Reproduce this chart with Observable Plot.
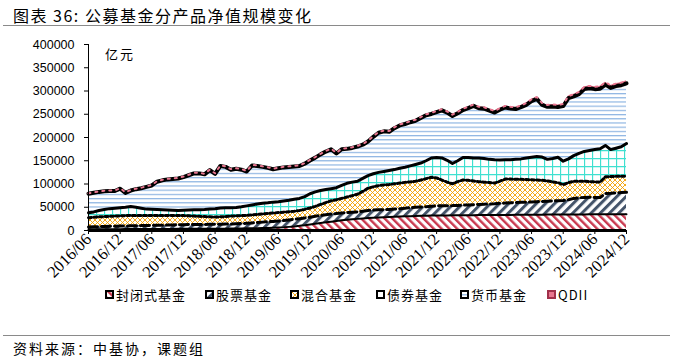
<!DOCTYPE html>
<html><head><meta charset="utf-8">
<script src="https://cdn.jsdelivr.net/npm/d3@7"></script>
<script src="https://cdn.jsdelivr.net/npm/@observablehq/plot@0.6"></script>
<style>
body{margin:0;background:#fff;}
#wrap{position:relative;width:673px;height:361px;overflow:hidden;font-family:"Noto Sans CJK SC",sans-serif;color:#000;background:#fff;}
#title{position:absolute;left:13px;top:3px;font-size:16px;letter-spacing:1.5px;white-space:nowrap;}
.hr{position:absolute;left:3px;width:667px;height:0;border-top:1.3px solid #8a8a8a;}
#chart{position:absolute;left:0;top:30px;}
#unit{position:absolute;left:105px;top:44px;font-size:13px;letter-spacing:2px;}
#legend{position:absolute;left:0;top:285px;width:673px;height:20px;font-size:13px;letter-spacing:1px;}
.li{position:absolute;top:0;display:flex;align-items:center;white-space:nowrap;}
.li svg{margin-right:2px;}
#source{position:absolute;left:13px;top:338px;font-size:14px;letter-spacing:2px;white-space:nowrap;}
</style></head><body>
<div id="wrap">
<svg width="0" height="0" style="position:absolute">
<defs>
<pattern id="pClosed" patternUnits="userSpaceOnUse" width="5.5" height="5.5" patternTransform="rotate(-45)">
  <rect width="5.5" height="5.5" fill="#fff"/><rect width="2.4" height="5.5" fill="#c9394f"/>
</pattern>
<pattern id="pStock" patternUnits="userSpaceOnUse" width="6.5" height="6.5" patternTransform="rotate(45)">
  <rect width="6.5" height="6.5" fill="#fff"/><rect width="3" height="6.5" fill="#44546a"/>
</pattern>
<pattern id="pMixed" patternUnits="userSpaceOnUse" width="5" height="5">
  <rect width="5" height="5" fill="#fff"/><path d="M0,0L5,5M5,0L0,5" stroke="#f4a000" stroke-width="0.9"/>
</pattern>
<pattern id="pBond" patternUnits="userSpaceOnUse" width="8" height="8">
  <rect width="8" height="8" fill="#fff"/><path d="M0.5,0V8M0,0.5H8" stroke="#3fe0d0" stroke-width="1.3"/>
</pattern>
<pattern id="pMoney" patternUnits="userSpaceOnUse" width="4" height="4.2">
  <rect width="4" height="4.2" fill="#fff"/><path d="M0,0.6H4" stroke="#8db4e2" stroke-width="1.2"/>
</pattern>
</defs></svg>
<div id="title">图表 36: 公募基金分产品净值规模变化</div>
<div class="hr" style="top:25px"></div>
<div id="chart"></div>
<div id="unit">亿元</div>
<div id="legend"></div>
<div class="hr" style="top:335px"></div>
<div id="source">资料来源：中基协，课题组</div>
</div>
<script>
// Monthly net asset value by fund type, 亿元, 2016/06 … 2024/12
const tickLabels = ["2016/06","2016/12","2017/06","2017/12","2018/06","2018/12","2019/06","2019/12","2020/06","2020/12","2021/06","2021/12","2022/06","2022/12","2023/06","2023/12","2024/06","2024/12"];
const yTicks = [0,50000,100000,150000,200000,250000,300000,350000,400000];

const closed = [2500,2600,2600,2700,2800,2800,2900,3000,3000,3100,
 3100,3200,3200,3300,3300,3400,3400,3500,3500,3600,
 3600,3700,3700,3800,3900,3900,4000,4100,4200,4400,
 4600,4800,5000,5300,5600,6000,6500,7000,7800,8800,
 10000,11500,13000,14500,16000,17500,19000,20500,22000,23000,
 24000,25000,26000,26800,27500,28000,28500,29000,29500,30000,
 30400,30800,31200,31500,31800,32000,32200,32400,32500,32600,
 32700,32800,32900,33000,33100,33200,33300,33400,33500,33600,
 33600,33700,33800,33900,34000,34000,34100,34200,34200,34300,
 34400,34400,34500,34600,34600,34700,34800,34800,34900,34900,
 35000,35000,35100];
const stock = [5000,5400,5700,5900,6200,6500,6700,6800,7000,7100,
 7400,7600,7800,7900,8200,8400,8600,8700,9000,9100,
 9300,9300,9400,9400,9400,9600,9800,10100,10400,10600,
 10900,11400,12000,12700,13200,13600,14000,14500,15000,15400,
 15500,15500,15700,16000,16500,16500,16500,16000,15500,15500,
 15300,15000,15500,16200,16500,16500,16300,16000,16500,17000,
 17600,18200,18800,19000,19200,20000,20800,20800,20800,20900,
 21300,21700,22100,22500,22900,23300,23700,24100,25000,25400,
 25900,26300,26700,27100,27500,28000,28400,28800,29300,29700,
 30100,31600,34500,35900,36400,36800,36200,36200,44600,45100,
 46000,46500,46900];
const mixed = [20000,20500,21200,21400,21500,21700,21900,22200,22500,22300,
 22000,21700,21500,21100,20800,20500,20000,19800,19500,18800,
 18100,17500,16900,16300,15700,16000,16200,16800,16900,17000,
 17000,17300,17500,17500,17700,17900,18000,18000,17700,17300,
 17500,18500,19800,21500,23500,26000,28500,29500,31500,33500,
 35700,38000,42500,48000,50000,52000,53200,54000,54500,55000,
 55500,55500,56000,58000,60500,62500,60000,55300,50700,47000,
 51000,54000,53000,51000,49000,47500,46000,44500,47500,51500,
 51000,50000,49500,48500,47500,46500,45500,43500,41000,39000,
 34000,37000,37000,35500,35000,33500,33500,33000,36000,36000,
 35500,35000,35000];
const bond = [10500,11500,13500,15000,16500,17000,17500,18000,19000,17500,
 15500,13500,13000,12700,12200,11700,11500,11000,11500,12500,
 13500,14000,15000,16500,18000,19000,19000,18000,18000,19000,
 20500,21500,22500,23000,23000,23500,23500,24000,24500,25500,
 26000,27500,30500,31000,30000,28000,26000,26000,28000,29500,
 29000,28000,28000,27000,28000,28500,29000,30000,30500,32000,
 32500,34500,36000,36500,38500,41500,44000,47500,47000,43500,
 45000,48500,49000,49500,51000,51000,50000,50000,45500,41500,
 41500,43000,44000,46500,48500,50500,50000,46500,50500,54500,
 50500,51000,55000,60000,64000,67000,69500,72000,67500,58000,
 60500,63500,70000];
const money = [41000,41000,40000,39500,37900,36900,40900,30900,34400,38900,
 42900,47900,51400,59900,63400,65900,67300,68800,71300,74800,
 78300,78300,75800,83800,74800,90300,87800,81800,83300,79800,
 73800,84800,81800,78300,75200,70700,71700,72200,71700,70700,
 69700,70700,71700,73700,77700,81700,84700,73700,77700,74100,
 73600,74600,72500,73500,79400,85300,86200,83200,89100,92000,
 93000,93900,93800,96800,97700,94600,97500,102400,102400,102300,
 102200,102100,106000,112000,106900,106900,104800,101700,108100,112500,
 110400,108300,111200,114200,120600,124000,112000,112900,111800,108200,
 118600,130500,127400,127300,134200,134100,130000,128900,130800,132700,
 133600,132500,129400];
const qdii = [1000,1000,1000,1000,1100,1100,1100,1100,1100,1100,1100,1100,
 1100,1100,1100,1100,1200,1200,1200,1200,1200,1200,1200,1200,
 1200,1200,1200,1200,1200,1200,1200,1200,1200,1200,1300,1300,
 1300,1300,1300,1300,1300,1300,1300,1300,1300,1300,1300,1300,
 1300,1400,1400,1400,1500,1500,1600,1700,1800,1800,1900,2000,
 2000,2100,2200,2200,2300,2400,2500,2600,2600,2700,2800,2900,
 3000,3000,3100,3100,3200,3300,3400,3500,3600,3700,3800,3800,
 3900,4000,4000,4100,4200,4300,4400,4500,4600,4700,4800,4900,
 5000,5100,5200,5300,5400,5500,5600];

const seriesNames = ["封闭式基金","股票基金","混合基金","债券基金","货币基金","QDII"];
const seriesValues = [closed, stock, mixed, bond, money, qdii];

const fills = ["url(#pClosed)","url(#pStock)","url(#pMixed)","url(#pBond)","url(#pMoney)","#e8768f"];
const lineStyles = [
  {stroke:"#000", strokeWidth:2},
  {stroke:"#000", strokeWidth:3, strokeDasharray:"9,4"},
  {stroke:"#000", strokeWidth:3, strokeDasharray:"3,2.5"},
  {stroke:"#000", strokeWidth:3},
  {stroke:"#000", strokeWidth:4},
  {stroke:"#e8768f", strokeWidth:2, strokeDasharray:"2,5"}
];

const n = closed.length;
const base = new Array(n).fill(0);
const layers = seriesValues.map((vals, k) => vals.map((v, i) => {
  const r = {i, name: seriesNames[k], y1: base[i], y2: base[i] + v};
  base[i] += v;
  return r;
}));

const marks = [];
layers.forEach((rows, k) => marks.push(Plot.areaY(rows, {x:"i", y1:"y1", y2:"y2", fill: fills[k]})));
layers.forEach((rows, k) => marks.push(Plot.lineY(rows, {x:"i", y:"y2", strokeLinejoin:"round", ...lineStyles[k]})));
marks.push(Plot.ruleX([0], {y1:0, y2:400000, stroke:"#000", strokeWidth:1}));
marks.push(Plot.ruleY([0], {stroke:"#000", strokeWidth:3}));

const chart = Plot.plot({
  width: 673, height: 260,
  marginTop: 14, marginBottom: 60, marginLeft: 88, marginRight: 47,
  style: {background:"transparent", overflow:"visible", color:"#000"},
  x: {domain:[0, n - 1], ticks: tickLabels.map((_, j) => j * 6), tickFormat: i => tickLabels[i / 6], tickRotate: -45, tickSize: 4, tickPadding: 2, label: null},
  y: {domain:[0, 400000], ticks: yTicks, tickFormat: d => String(d), tickSize: 4, tickPadding: 10, label: null},
  marks
});
document.getElementById("chart").appendChild(chart);
d3.select(chart).selectAll('[aria-label^="x-axis"] text')
  .style("font-family", '"Liberation Serif", serif').style("font-size", "16.5px");
d3.select(chart).selectAll('[aria-label^="y-axis"] text')
  .style("font-family", '"Liberation Sans", sans-serif').style("font-size", "12.5px");

// legend
const legendX = [105, 205, 290, 376, 460, 547];
const lg = document.getElementById("legend");
seriesNames.forEach((name, k) => {
  const d = document.createElement("div");
  d.className = "li";
  d.style.left = legendX[k] + "px";
  const strokeCol = k === 5 ? "#a0304a" : "#000";
  d.innerHTML = `<svg width="9" height="9"><rect x="1" y="1" width="7" height="7" fill="${fills[k]}" stroke="${strokeCol}" stroke-width="2"/></svg><span>${name}</span>`;
  lg.appendChild(d);
});
</script>
</body></html>
